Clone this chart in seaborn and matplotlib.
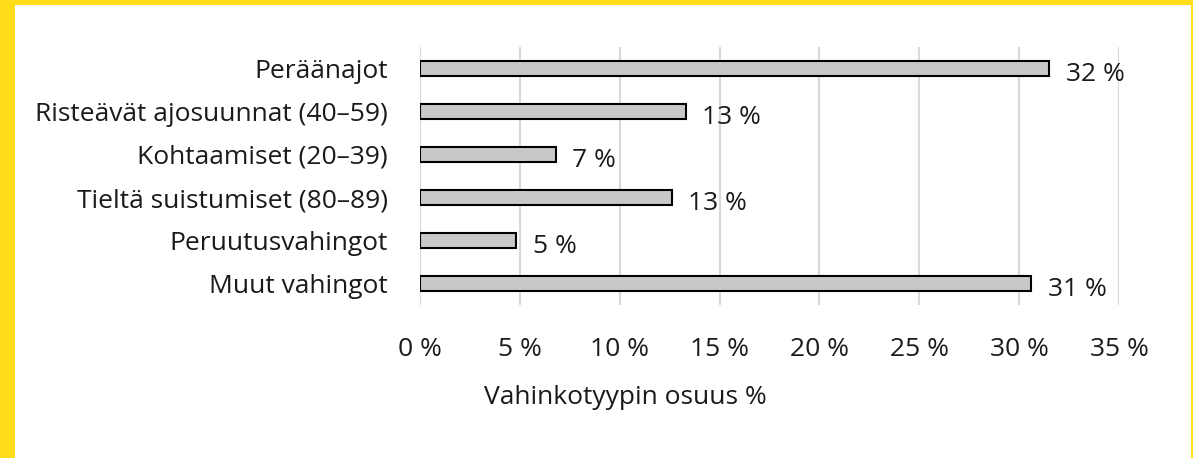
import matplotlib
matplotlib.use("Agg")
import matplotlib.pyplot as plt
import seaborn as sns
import pandas as pd
from matplotlib.patches import Rectangle
from matplotlib.ticker import MultipleLocator, FuncFormatter

# --- data ---
categories = [
    "Peräänajot",
    "Risteävät ajosuunnat (40–59)",
    "Kohtaamiset (20–39)",
    "Tieltä suistumiset (80–89)",
    "Peruutusvahingot",
    "Muut vahingot",
]
shares = [31.5, 13.3, 6.8, 12.6, 4.8, 30.6]
share_labels = ["32 %", "13 %", "7 %", "13 %", "5 %", "31 %"]
x_title = "Vahinkotyypin osuus %"

df = pd.DataFrame({"tyyppi": categories, "osuus": shares})

sns.set_style("white")
plt.rcParams["font.family"] = ["Open Sans", "DejaVu Sans"]

W, H = 1193, 458
FS = 19
TXT = "#1a1a1a"
fig = plt.figure(figsize=(W / 100, H / 100), dpi=100)

# yellow frame (left, top, right)
for r in [(0, 0, 15 / W, 1), (0, 1 - 5 / H, 1, 5 / H), (1 - 2 / W, 0, 2 / W, 1)]:
    fig.patches.append(Rectangle(r[:2], r[2], r[3], transform=fig.transFigure,
                                 facecolor="#FFDD1A", edgecolor="none", zorder=0))

ax = fig.add_axes([420 / W, 1 - 305 / H, 699 / W, 258 / H])

sns.barplot(data=df, x="osuus", y="tyyppi", orient="h", ax=ax,
            color="#C8C8C8", saturation=1, edgecolor="black",
            linewidth=1.5, width=0.35, zorder=3)

txts = ax.bar_label(ax.containers[0], labels=share_labels, padding=12,
                    fontsize=FS, color=TXT)
for t in txts:
    t.set_va("center_baseline")
    t.xyann = (12, -2.5)

ax.set_xlim(0, 35)
ax.set_ylim(5.5, -0.5)
ax.xaxis.set_major_locator(MultipleLocator(5))
ax.xaxis.set_major_formatter(FuncFormatter(lambda v, p: f"{v:.0f} %"))
ax.grid(axis="x", color="#D9D9D9", linewidth=1.5, zorder=0)
ax.set_axisbelow(True)
for s in ax.spines.values():
    s.set_visible(False)

ax.tick_params(axis="x", length=0, pad=23, labelsize=FS, labelcolor=TXT)
ax.tick_params(axis="y", length=0, pad=23, labelsize=FS, labelcolor=TXT)
ax.set_xlabel("")
ax.set_ylabel("")

fig.text(625 / W, 1 - 398 / H, x_title, ha="center", va="center",
         fontsize=FS, color=TXT)

fig.savefig("out.png", dpi=100)
